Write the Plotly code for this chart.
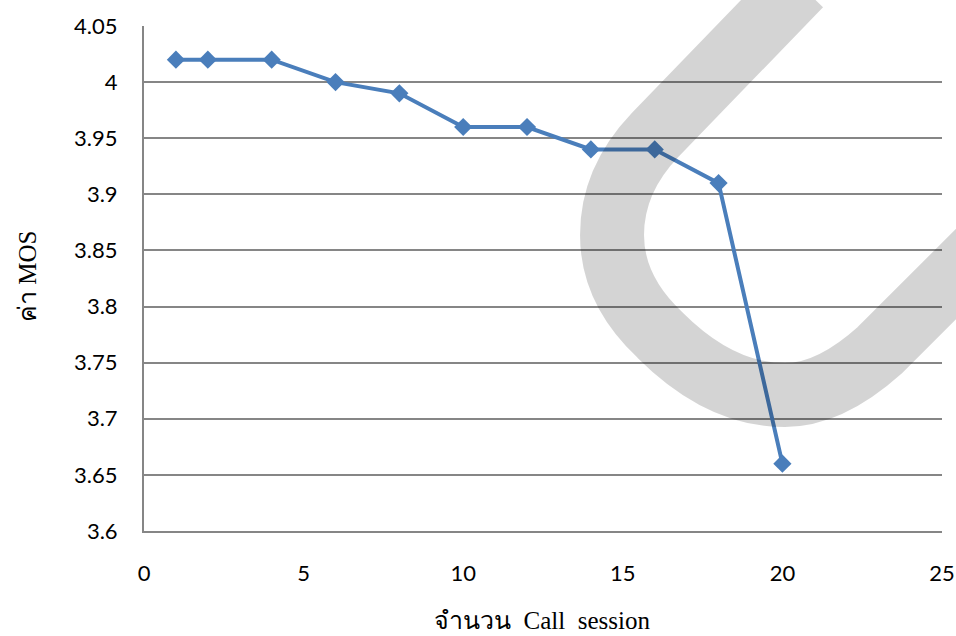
import plotly.graph_objects as go

# Call sessions and measured MOS scores
sessions = [1, 2, 4, 6, 8, 10, 12, 14, 16, 18, 20]
mos = [4.02, 4.02, 4.02, 4.00, 3.99, 3.96, 3.96, 3.94, 3.94, 3.91, 3.66]

y_ticks = [3.6, 3.65, 3.7, 3.75, 3.8, 3.85, 3.9, 3.95, 4.0, 4.05]
y_labels = ["3.6", "3.65", "3.7", "3.75", "3.8", "3.85", "3.9", "3.95", "4", "4.05"]
x_ticks = [0, 5, 10, 15, 20, 25]

W, H = 956, 636
L, R, T, B = 144, 14, 26, 105
PW, PH = W - L - R, H - T - B


def pp(x, y):
    """pixel position -> paper coordinates"""
    return f"{(x - L) / PW:.4f},{(H - B - y) / PH:.4f}"


# large grey stroke drawn across the plot
mark_path = (
    f"M {pp(800, -15)} L {pp(655, 135)} "
    f"Q {pp(612, 180)} {pp(612, 235)} "
    f"Q {pp(612, 290)} {pp(660, 335)} "
    f"Q {pp(720, 395)} {pp(785, 395)} "
    f"Q {pp(830, 395)} {pp(880, 350)} "
    f"L {pp(990, 240)}"
)

fig = go.Figure()
fig.add_trace(go.Scatter(
    x=sessions, y=mos, mode="lines+markers",
    line=dict(color="#4a7ebb", width=4),
    marker=dict(symbol="diamond", size=14, color="#4a7ebb"),
    showlegend=False,
))

fig.add_shape(type="path", xref="paper", yref="paper", path=mark_path,
              line=dict(color="rgba(0,0,0,0.17)", width=64), layer="above")

serif = "Liberation Serif, 'Times New Roman', serif"
fig.update_layout(
    width=W, height=H,
    margin=dict(l=L, r=R, t=T, b=B, autoexpand=False),
    paper_bgcolor="white", plot_bgcolor="white",
    font=dict(family="Lato, 'Open Sans', sans-serif", size=22, color="black"),
    annotations=[
        dict(text="จำนวน  Call  session", xref="paper", yref="paper",
             x=(542 - L) / PW, y=(H - B - 635) / PH, showarrow=False,
             xanchor="center", yanchor="bottom", borderpad=0,
             font=dict(family=serif, size=25)),
        dict(text="ค่า MOS", xref="paper", yref="paper", textangle=-90,
             x=(27 - L) / PW, y=(H - B - 277) / PH, showarrow=False,
             xanchor="center", yanchor="middle", font=dict(family=serif, size=25)),
    ],
)
fig.update_xaxes(
    range=[0, 25], tickvals=x_ticks, showgrid=False, zeroline=False,
    showline=True, linecolor="#868686", linewidth=2, automargin=False,
    ticks="outside", ticklen=22, tickcolor="rgba(0,0,0,0)",
)
fig.update_yaxes(
    range=[3.6, 4.05], tickvals=y_ticks, ticktext=y_labels,
    showgrid=True, gridcolor="#868686", gridwidth=1.5, zeroline=False,
    showline=True, linecolor="#868686", linewidth=2, automargin=False,
    ticks="outside", ticklen=20, tickcolor="rgba(0,0,0,0)",
)

fig.write_html("out.html")
